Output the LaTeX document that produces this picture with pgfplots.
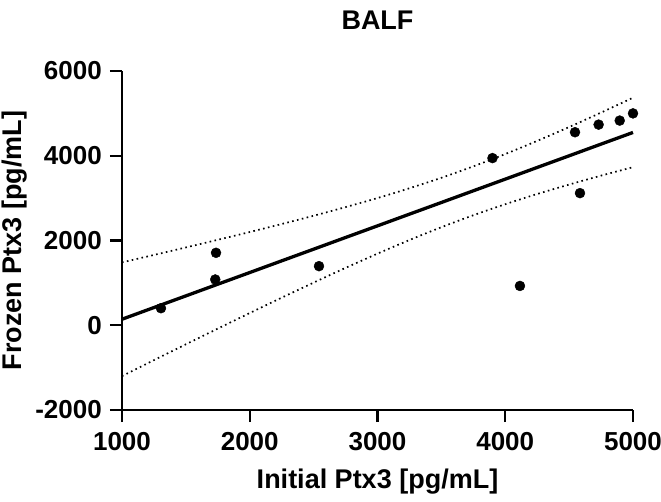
\documentclass[border=0pt]{standalone}
\usepackage{pgfplots}
\pgfplotsset{compat=1.18}
\usepackage{fontspec}
\setmainfont{Liberation Sans}

% Regression of frozen vs. initial Ptx3 in BALF
\pgfplotstableread{
x     y
1305  402
1736  1710
1730  1080
2542  1395
3900  3945
4115  928
4546  4555
4585  3118
4731  4735
4896  4830
5000  5000
}\samples

\pgfplotstableread{
x     fit   upper  lower
1000  142   1484   -1200
1250  418   1659   -823
1500  693   1836   -450
1750  969   2017   -79
2000  1244  2200   288
2250  1520  2389   651
2500  1795  2584   1006
2750  2071  2788   1354
3000  2346  3002   1690
3250  2622  3233   2011
3500  2897  3480   2314
3750  3173  3750   2596
4000  3448  4040   2856
4250  3724  4351   3097
4500  3999  4678   3320
4750  4275  5019   3531
5000  4550  5370   3730
}\band

\begin{document}
\begin{tikzpicture}
\path[use as bounding box] (-122pt,-91pt) rectangle (539pt,410pt);
\begin{axis}[
  scale only axis,
  width=511pt, height=339pt,
  xmin=1000, xmax=5000,
  ymin=-2000, ymax=6000,
  axis x line=bottom, axis y line=left,
  axis line style={line width=2.2pt, -},
  tick align=outside,
  major tick length=12pt,
  tick style={line width=2.2pt, black},
  xtick={1000,2000,3000,4000,5000},
  xticklabels={1000,2000,3000,4000,5000},
  ytick={-2000,0,2000,4000,6000},
  yticklabels={-2000,0,2000,4000,6000},
  ticklabel style={font=\bfseries\fontsize{26}{30}\selectfont},
  xticklabel style={inner sep=0pt, yshift=-10pt},
  yticklabel style={inner sep=0pt, xshift=-8pt},
  label style={font=\bfseries\fontsize{27}{32}\selectfont},
  xlabel={Initial Ptx3 [pg/mL]},
  ylabel={Frozen Ptx3 [pg/mL]},
  xlabel style={at={(axis description cs:0.5,-0.2330)}, anchor=base},
  ylabel style={at={(axis description cs:-0.1957,0.5)}, anchor=base, rotate=0},
  title={BALF},
  title style={font=\bfseries\fontsize{27}{32}\selectfont, at={(axis description cs:0.5,1.104)}, anchor=base},
  clip=false,
]
\addplot[black, line width=1.7pt, dash pattern=on 1.6pt off 3.4pt, line cap=butt, smooth] table[x=x, y=upper] {\band};
\addplot[black, line width=1.7pt, dash pattern=on 1.6pt off 3.4pt, line cap=butt, smooth] table[x=x, y=lower] {\band};
\addplot[black, line width=3.3pt] table[x=x, y=fit] {\band};
\addplot[only marks, mark=*, mark size=5pt, black] table[x=x, y=y] {\samples};
\end{axis}
\end{tikzpicture}
\end{document}
